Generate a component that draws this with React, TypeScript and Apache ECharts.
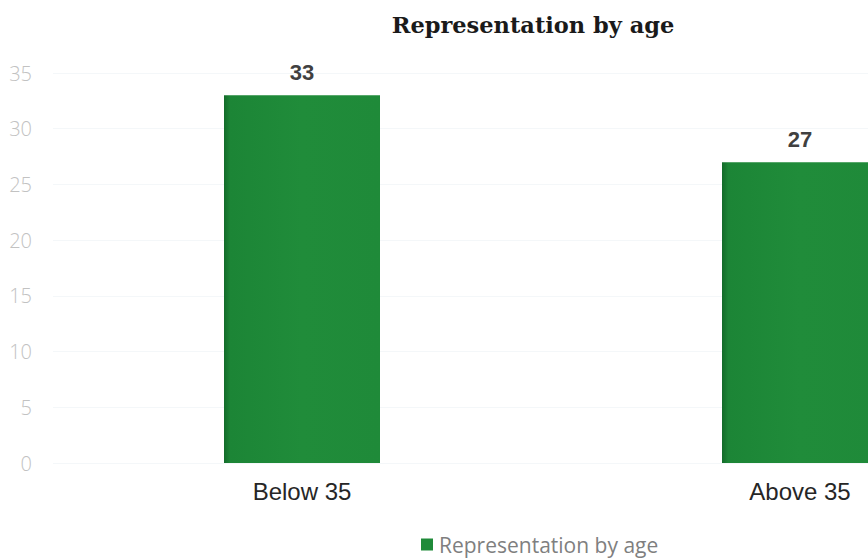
import React, { useEffect, useRef } from "react";
import * as echarts from "echarts";

const categories = ["Below 35", "Above 35"];
const seriesName = "Representation by age";
const values = [33, 27];
const yTicks = { min: 0, max: 35, interval: 5 };

const barFill = new echarts.graphic.LinearGradient(0, 0, 1, 0, [
  { offset: 0, color: "#136b2a" },
  { offset: 0.04, color: "#1c8536" },
  { offset: 0.5, color: "#208c3a" },
  { offset: 1, color: "#1f8a39" },
]);

export default function App() {
  const ref = useRef<HTMLDivElement>(null);

  useEffect(() => {
    if (!ref.current) return;
    const chart = echarts.init(ref.current, null, { renderer: "svg" });
    chart.setOption({
      animation: false,
      backgroundColor: "#ffffff",
      title: {
        text: seriesName,
        left: 528,
        top: 8,
        textAlign: "center",
        textStyle: {
          fontFamily: "DejaVu Serif",
          fontWeight: "bold",
          fontSize: 22.5,
          color: "#1a1a1a",
        },
      },
      legend: {
        data: [seriesName],
        left: 421,
        top: 534,
        padding: 0,
        icon: "rect",
        itemWidth: 12,
        itemHeight: 12,
        itemGap: 6,
        textStyle: {
          fontFamily: "Open Sans",
          fontSize: 21,
          color: "#7f7f7f",
          padding: [0, 0, 0, 1],
        },
        itemStyle: { color: "#1f8a39" },
      },
      grid: {
        left: 53,
        width: 996,
        top: 73,
        height: 390,
        containLabel: false,
        outerBoundsMode: "none",
      },
      xAxis: {
        type: "category",
        data: categories,
        axisLine: { show: false },
        axisTick: { show: false },
        axisLabel: {
          margin: 16,
          fontFamily: "Liberation Sans",
          fontSize: 24,
          color: "#262626",
        },
      },
      yAxis: {
        type: "value",
        min: yTicks.min,
        max: yTicks.max,
        interval: yTicks.interval,
        axisLine: { show: false },
        axisTick: { show: false },
        splitLine: { lineStyle: { color: "#f4f7f9", width: 1 } },
        axisLabel: {
          margin: 21,
          fontFamily: "Open Sans",
          fontWeight: 300,
          fontSize: 20,
          color: "#c2c2c2",
        },
      },
      series: [
        {
          name: seriesName,
          type: "bar",
          data: values,
          barWidth: 156,
          itemStyle: { color: barFill },
          label: {
            show: true,
            position: "top",
            distance: 12,
            fontFamily: "Liberation Sans",
            fontWeight: "bold",
            fontSize: 22,
            color: "#404040",
          },
        },
      ],
    });
    return () => chart.dispose();
  }, []);

  return (
    <div
      ref={ref}
      style={{ position: "fixed", left: 0, top: 0, width: 868, height: 559 }}
    />
  );
}
